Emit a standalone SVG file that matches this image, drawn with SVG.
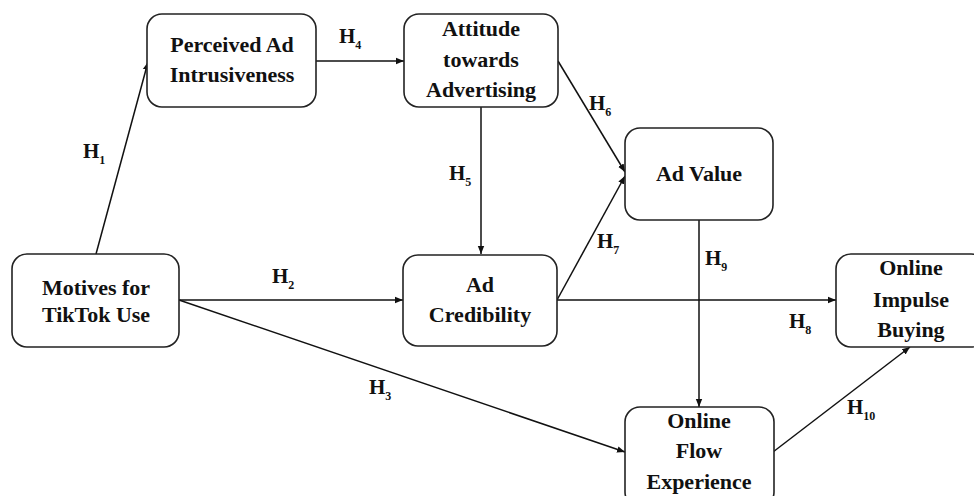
<svg xmlns="http://www.w3.org/2000/svg" width="974" height="496" viewBox="0 0 974 496">
<style>
.box{fill:#fff;stroke:#222;stroke-width:1.6}
.t{font-family:"Liberation Serif","Times New Roman",serif;font-weight:bold;font-size:22px;fill:#111;text-anchor:middle}
.h{font-family:"Liberation Serif","Times New Roman",serif;font-weight:bold;font-size:21px;fill:#111}
.s{font-size:12px}
.c{stroke:#111;stroke-width:1.5;fill:none;marker-end:url(#ah)}
</style>
<defs>
<marker id="ah" viewBox="0 0 10 10" refX="10" refY="5" markerWidth="8" markerHeight="8" markerUnits="userSpaceOnUse" orient="auto">
<path d="M0,1 L10,5 L0,9 z" fill="#111"/>
</marker>
</defs>
<rect width="974" height="496" fill="#fff"/>
<g id="connectors">
<line class="c" x1="96" y1="254" x2="148" y2="62"/>
<line class="c" x1="316" y1="61" x2="404" y2="61"/>
<line class="c" x1="481" y1="107" x2="481" y2="254"/>
<line class="c" x1="558" y1="61" x2="625" y2="172"/>
<line class="c" x1="557" y1="300" x2="625" y2="176"/>
<line class="c" x1="179" y1="300" x2="403" y2="300"/>
<line class="c" x1="179" y1="300" x2="625" y2="452"/>
<line class="c" x1="557" y1="300" x2="836" y2="300"/>
<line class="c" x1="699" y1="220" x2="699" y2="407"/>
<line class="c" x1="773" y1="452" x2="910" y2="347"/>
<text class="h" x="83" y="158">H<tspan class="s" dy="6">1</tspan></text>
<text class="h" x="272" y="283">H<tspan class="s" dy="6">2</tspan></text>
<text class="h" x="369" y="394">H<tspan class="s" dy="6">3</tspan></text>
<text class="h" x="339" y="43">H<tspan class="s" dy="6">4</tspan></text>
<text class="h" x="449" y="180">H<tspan class="s" dy="6">5</tspan></text>
<text class="h" x="589" y="110">H<tspan class="s" dy="6">6</tspan></text>
<text class="h" x="597" y="248">H<tspan class="s" dy="6">7</tspan></text>
<text class="h" x="789" y="328">H<tspan class="s" dy="6">8</tspan></text>
<text class="h" x="705" y="265">H<tspan class="s" dy="6">9</tspan></text>
<text class="h" x="847" y="414">H<tspan class="s" dy="6">10</tspan></text>
</g>
<g id="perceived">
<rect class="box" x="147" y="14" width="169" height="93" rx="15"/>
<text class="t" x="232" y="52">Perceived Ad</text>
<text class="t" x="232" y="82">Intrusiveness</text>
</g>
<g id="attitude">
<rect class="box" x="404" y="14" width="154" height="93" rx="15"/>
<text class="t" x="481" y="36">Attitude</text>
<text class="t" x="481" y="67">towards</text>
<text class="t" x="481" y="97">Advertising</text>
</g>
<g id="advalue">
<rect class="box" x="625" y="128" width="148" height="92" rx="15"/>
<text class="t" x="699" y="181">Ad Value</text>
</g>
<g id="motives">
<rect class="box" x="12" y="254" width="167" height="93" rx="15"/>
<text class="t" x="96" y="295">Motives for</text>
<text class="t" x="96" y="322">TikTok Use</text>
</g>
<g id="credibility">
<rect class="box" x="403" y="255" width="154" height="91" rx="15"/>
<text class="t" x="480" y="292">Ad</text>
<text class="t" x="480" y="322">Credibility</text>
</g>
<g id="impulse">
<rect class="box" x="836" y="254" width="150" height="93" rx="15"/>
<text class="t" x="911" y="275">Online</text>
<text class="t" x="911" y="307">Impulse</text>
<text class="t" x="911" y="337">Buying</text>
</g>
<g id="flow">
<rect class="box" x="625" y="407" width="149" height="100" rx="15"/>
<text class="t" x="699" y="428">Online</text>
<text class="t" x="699" y="458">Flow</text>
<text class="t" x="699" y="489">Experience</text>
</g>
</svg>
